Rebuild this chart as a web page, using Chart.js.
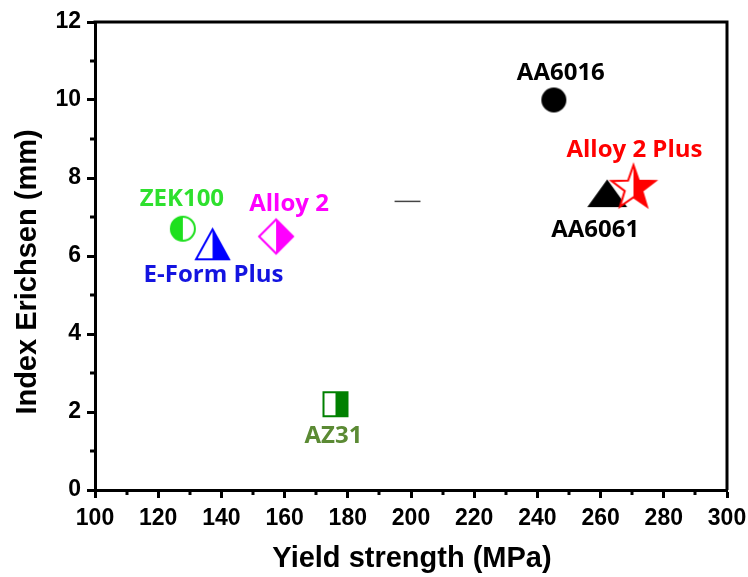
<!DOCTYPE html>
<html>
<head>
<meta charset="utf-8">
<script src="https://cdn.jsdelivr.net/npm/chart.js@4"></script>
<style>
  body { margin: 0; background: #fff; }
  #wrap { width: 748px; height: 577px; }
</style>
</head>
<body>
<div id="wrap"><canvas id="erichsenChart" width="748" height="577"></canvas></div>
<script>
// Data
const materials = ['ZEK100', 'E-Form Plus', 'Alloy 2', 'AZ31', 'AA6016', 'AA6061', 'Alloy 2 Plus'];
const yieldStrength = [127.8, 137.2, 157.3, 176.1, 245.2, 262.1, 270.4];
const erichsenIndex = [6.7, 6.3, 6.5, 2.2, 10.0, 7.6, 7.8];
const xTicks = [100, 120, 140, 160, 180, 200, 220, 240, 260, 280, 300];
const yTicks = [0, 2, 4, 6, 8, 10, 12];
// small stray dash in the middle of the plot
const dashX = [194.8, 203.0];
const dashY = [7.4, 7.4];

// marker + label styles, one per material
const markerColors = ['#1ee01e', '#0000ff', '#ff00ff', '#008000', '#000000', '#000000', '#ff0000'];
const labelColors = ['#2ee02e', '#1414e0', '#ff00ff', '#5b8a34', '#000000', '#000000', '#ff0000'];
const markerShapes = ['circle', 'triangle', 'diamond', 'square', 'circle', 'triangle', 'star'];
const markerSizes = [[24, 24], [33, 30], [34, 34], [24, 24], [23, 23], [36, 25], [46, 44]];
const markerFill = ['left', 'right', 'right', 'right', 'full', 'full', 'right'];
const labelOffsets = [[-1, -30], [1, 31], [13, -32], [-2, 32], [7, -27], [-12, 37], [1, -36]];

function shapePath(ctx, shape, w, h) {
    ctx.beginPath();
    if (shape === 'circle') {
        ctx.arc(0, 0, w / 2, 0, Math.PI * 2);
    } else if (shape === 'triangle') {
        ctx.moveTo(0, -h / 2);
        ctx.lineTo(w / 2, h / 2);
        ctx.lineTo(-w / 2, h / 2);
        ctx.closePath();
    } else if (shape === 'diamond') {
        ctx.moveTo(0, -h / 2);
        ctx.lineTo(w / 2, 0);
        ctx.lineTo(0, h / 2);
        ctx.lineTo(-w / 2, 0);
        ctx.closePath();
    } else if (shape === 'square') {
        ctx.rect(-w / 2, -h / 2, w, h);
    } else if (shape === 'star') {
        const R = w / 2, r = R * 0.4, shift = R * 0.1;
        for (let i = 0; i < 10; i++) {
            const rad = i % 2 === 0 ? R : r;
            const a = -Math.PI / 2 + i * Math.PI / 5;
            const px = Math.cos(a) * rad, py = Math.sin(a) * rad + shift;
            if (i === 0) ctx.moveTo(px, py); else ctx.lineTo(px, py);
        }
        ctx.closePath();
    }
}

function makeMarker(shape, color, w, h, fill) {
    const pad = 3;
    const c = document.createElement('canvas');
    c.width = w + pad * 2;
    c.height = h + pad * 2;
    const ctx = c.getContext('2d');
    ctx.translate(c.width / 2, c.height / 2);
    shapePath(ctx, shape, w, h);
    ctx.fillStyle = fill === 'full' ? color : '#fff';
    ctx.fill();
    if (fill === 'left' || fill === 'right') {
        ctx.save();
        ctx.beginPath();
        if (fill === 'left') ctx.rect(-c.width / 2, -c.height / 2, c.width / 2, c.height);
        else ctx.rect(0, -c.height / 2, c.width / 2, c.height);
        ctx.clip();
        shapePath(ctx, shape, w, h);
        ctx.fillStyle = color;
        ctx.fill();
        ctx.restore();
    }
    shapePath(ctx, shape, w, h);
    ctx.strokeStyle = color;
    ctx.lineWidth = 2;
    ctx.stroke();
    return c;
}

const markers = materials.map((m, i) =>
    makeMarker(markerShapes[i], markerColors[i], markerSizes[i][0], markerSizes[i][1], markerFill[i]));

// labels next to each point, axis titles, minor ticks and the box on top/right
const decorations = {
    id: 'decorations',
    afterDatasetsDraw(chart) {
        const ctx = chart.ctx;
        const meta = chart.getDatasetMeta(1);
        ctx.save();
        ctx.font = 'bold 24px "Open Sans", "Noto Sans", sans-serif';
        ctx.textAlign = 'center';
        ctx.textBaseline = 'middle';
        meta.data.forEach((pt, i) => {
            ctx.fillStyle = labelColors[i];
            ctx.fillText(materials[i], pt.x + labelOffsets[i][0], pt.y + labelOffsets[i][1]);
        });
        ctx.restore();
    },
    afterDraw(chart) {
        const ctx = chart.ctx;
        const area = chart.chartArea;
        const xs = chart.scales.x, ys = chart.scales.y;
        ctx.save();
        ctx.strokeStyle = '#000';
        ctx.lineWidth = 3;
        ctx.beginPath();
        for (let v = 1; v < 12; v += 2) {
            const py = Math.round(ys.getPixelForValue(v));
            ctx.moveTo(area.left - 5, py);
            ctx.lineTo(area.left, py);
        }
        for (let v = 110; v < 300; v += 20) {
            const px = Math.round(xs.getPixelForValue(v));
            ctx.moveTo(px, area.bottom);
            ctx.lineTo(px, area.bottom + 5);
        }
        ctx.stroke();
        ctx.beginPath();
        ctx.moveTo(area.left - 1.5, area.top);
        ctx.lineTo(area.right, area.top);
        ctx.lineTo(area.right, area.bottom);
        ctx.stroke();

        ctx.font = 'bold 29px "Liberation Sans", Arial, sans-serif';
        ctx.fillStyle = '#000';
        ctx.textAlign = 'center';
        ctx.textBaseline = 'middle';
        ctx.fillText('Yield strength (MPa)', 412, 559);
        ctx.translate(28, 272);
        ctx.rotate(-Math.PI / 2);
        ctx.fillText('Index Erichsen (mm)', 0, 0);
        ctx.restore();
    }
};

const tickFont = { family: '"Liberation Sans", Arial, sans-serif', size: 23, weight: 'bold' };

new Chart(document.getElementById('erichsenChart').getContext('2d'), {
    type: 'scatter',
    data: {
        datasets: [{
            type: 'line',
            data: dashX.map((x, i) => ({ x: x, y: dashY[i] })),
            borderColor: '#444',
            borderWidth: 1.5,
            pointRadius: 0
        }, {
            data: yieldStrength.map((x, i) => ({ x: x, y: erichsenIndex[i] })),
            pointStyle: markers,
            pointRadius: 10
        }]
    },
    options: {
        responsive: false,
        animation: false,
        layout: { padding: { left: 14, top: 22, right: 21, bottom: 0 } },
        plugins: { legend: { display: false }, tooltip: { enabled: false } },
        scales: {
            x: {
                type: 'linear',
                min: 100, max: 300,
                afterFit: s => { s.height = 87; s.paddingLeft = 0; s.paddingRight = 0; },
                afterBuildTicks: s => { s.ticks = xTicks.map(v => ({ value: v })); },
                ticks: { font: tickFont, color: '#000', padding: 7, maxRotation: 0 },
                grid: { drawOnChartArea: false, drawTicks: true, tickLength: 8, tickWidth: 3, tickColor: '#000' },
                border: { display: true, width: 3, color: '#000' },
                title: { display: false }
            },
            y: {
                type: 'linear',
                min: 0, max: 12,
                afterFit: s => { s.width = 81; s.paddingTop = 0; s.paddingBottom = 0; },
                afterBuildTicks: s => { s.ticks = yTicks.map(v => ({ value: v })); },
                ticks: { font: tickFont, color: '#000', padding: 6 },
                grid: { drawOnChartArea: false, drawTicks: true, tickLength: 8, tickWidth: 3, tickColor: '#000' },
                border: { display: true, width: 3, color: '#000' },
                title: { display: false }
            }
        }
    },
    plugins: [decorations]
});
</script>
</body>
</html>
